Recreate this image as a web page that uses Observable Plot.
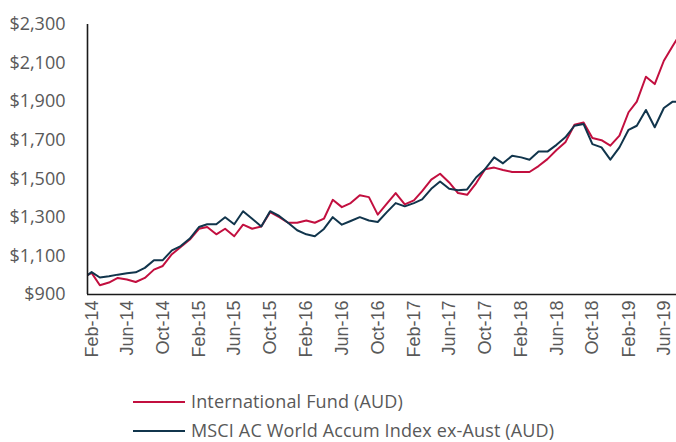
<!DOCTYPE html>
<html>
<head>
<meta charset="utf-8">
<script src="https://cdn.jsdelivr.net/npm/d3@7"></script>
<script src="https://cdn.jsdelivr.net/npm/@observablehq/plot@0.6"></script>
<style>
  html, body { margin: 0; padding: 0; background: #fff; width: 676px; height: 442px; overflow: hidden; }
  #legend { padding: 7px 0 0 133px; font-family: "Open Sans", sans-serif; font-size: 18px; letter-spacing: 0.15px; color: #595959; }
  .row { height: 29px; line-height: 29px; white-space: nowrap; }
  .sw { display: inline-block; width: 52px; height: 0; border-top: 2px solid; vertical-align: middle; margin-right: 6px; position: relative; top: -1px; }
</style>
</head>
<body>
<div id="chart"></div>
<div id="legend"></div>
<script>
const seriesNames = ["International Fund (AUD)", "MSCI AC World Accum Index ex-Aust (AUD)"];
const seriesColors = ["#c20f3f", "#11354c"];
const inceptionDate = "2014-01-17";
const inceptionValue = 1000;
const firstMonthStart = "2014-02-01"; // month-end points: Jan-14 ... Jul-19
const fundValues = [1012, 948, 962, 986, 978, 965, 986, 1029, 1048, 1109, 1146, 1185, 1241, 1250, 1212, 1241, 1202, 1262, 1241, 1253, 1327, 1301, 1272, 1272, 1284, 1272, 1293, 1391, 1353, 1374, 1415, 1405, 1314, 1371, 1426, 1367, 1388, 1436, 1496, 1526, 1481, 1426, 1417, 1478, 1550, 1558, 1546, 1535, 1535, 1535, 1566, 1602, 1649, 1689, 1780, 1792, 1711, 1700, 1672, 1724, 1845, 1900, 2029, 1991, 2112, 2189, 2265];
const indexValues = [1016, 988, 995, 1003, 1010, 1015, 1038, 1078, 1078, 1129, 1151, 1190, 1250, 1264, 1264, 1301, 1264, 1332, 1293, 1253, 1332, 1307, 1272, 1233, 1212, 1202, 1240, 1301, 1262, 1281, 1301, 1284, 1276, 1327, 1374, 1357, 1374, 1393, 1448, 1486, 1448, 1440, 1445, 1508, 1550, 1611, 1580, 1620, 1611, 1599, 1641, 1641, 1676, 1715, 1775, 1784, 1680, 1663, 1599, 1663, 1754, 1775, 1857, 1767, 1867, 1900, 1900];
const xTickDates = ["2014-02-01", "2014-06-01", "2014-10-01", "2015-02-01", "2015-06-01", "2015-10-01", "2016-02-01", "2016-06-01", "2016-10-01", "2017-02-01", "2017-06-01", "2017-10-01", "2018-02-01", "2018-06-01", "2018-10-01", "2019-02-01", "2019-06-01"];
const yTicks = [900, 1100, 1300, 1500, 1700, 1900, 2100, 2300];
const xDomainEnd = "2019-07-13";

const monthEnds = fundValues.map((_, i) => d3.utcDay.offset(d3.utcMonth.offset(new Date(firstMonthStart), i), -1));
const rows = [];
[fundValues, indexValues].forEach((vals, s) => {
  rows.push({date: new Date(inceptionDate), value: inceptionValue, series: seriesNames[s]});
  vals.forEach((v, i) => rows.push({date: monthEnds[i], value: v, series: seriesNames[s]}));
});

const chart = Plot.plot({
  width: 676,
  height: 380,
  marginLeft: 87,
  marginRight: 0,
  marginTop: 24,
  marginBottom: 86,
  style: {background: "#fff", color: "#595959", fontFamily: "'Open Sans', sans-serif", fontSize: "18px"},
  x: {
    type: "utc",
    domain: [new Date(inceptionDate), new Date(xDomainEnd)],
    ticks: xTickDates.map(d => new Date(d)),
    tickFormat: d3.utcFormat("%b-%y"),
    tickRotate: -90,
    tickSize: 0,
    tickPadding: 6,
    label: null
  },
  y: {
    domain: [900, 2300],
    ticks: yTicks,
    tickFormat: d => "$" + d3.format(",")(d),
    tickSize: 0,
    tickPadding: 22,
    label: null
  },
  color: {domain: seriesNames, range: seriesColors},
  marks: [
    Plot.lineY(rows, {x: "date", y: "value", z: "series", stroke: "series", strokeWidth: 2, clip: true}),
    Plot.ruleX([new Date(inceptionDate)], {stroke: "#1a1a1a", strokeWidth: 1.6}),
    Plot.ruleY([900], {stroke: "#1a1a1a", strokeWidth: 1.6})
  ]
});
document.getElementById("chart").appendChild(chart);

chart.querySelectorAll('[aria-label^="x-axis"]').forEach(g => {
  g.setAttribute("font-family", "'Liberation Sans', Arial, sans-serif");
  g.setAttribute("font-size", "18px");
  g.style.fontFamily = "'Liberation Sans', Arial, sans-serif";
  g.style.fontSize = "18px";
});

const legend = document.getElementById("legend");
seriesNames.forEach((name, i) => {
  const row = document.createElement("div");
  row.className = "row";
  const sw = document.createElement("span");
  sw.className = "sw";
  sw.style.borderTopColor = seriesColors[i];
  row.appendChild(sw);
  row.appendChild(document.createTextNode(name));
  legend.appendChild(row);
});
</script>
</body>
</html>
